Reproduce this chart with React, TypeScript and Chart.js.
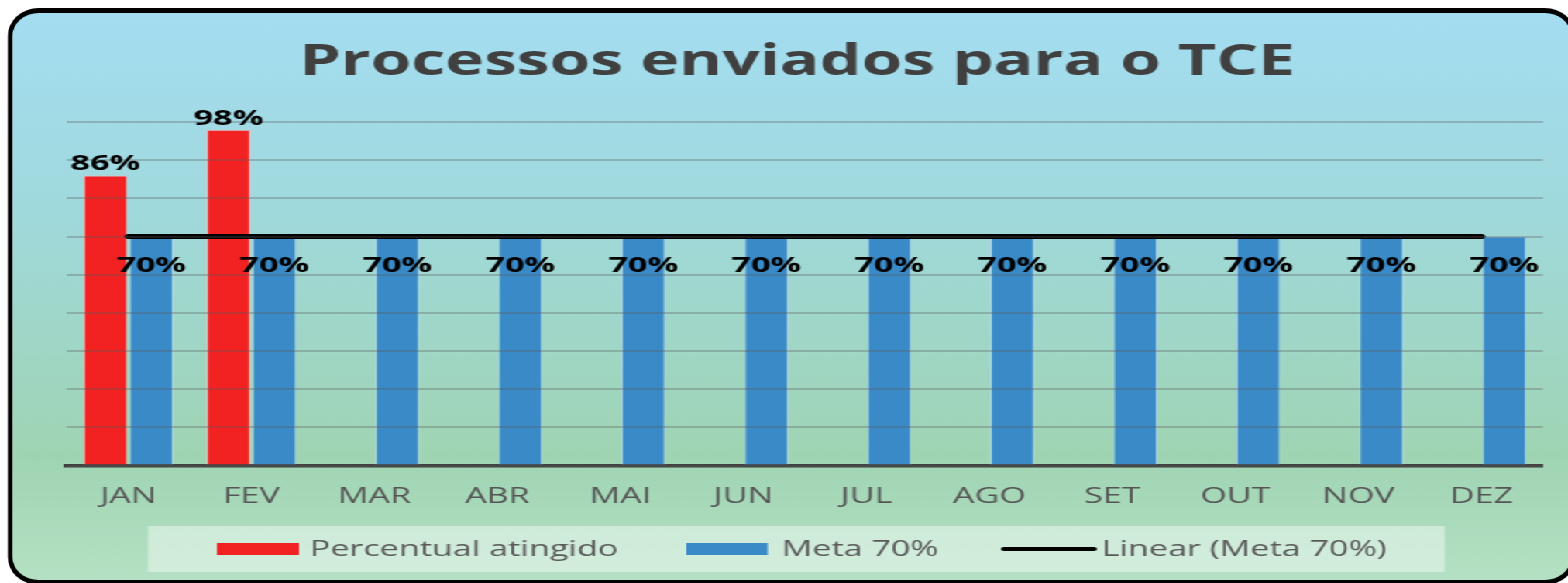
import React, { useEffect, useRef } from 'react';
import { Chart, registerables } from 'chart.js';

Chart.register(...registerables);

const months = ['JAN', 'FEV', 'MAR', 'ABR', 'MAI', 'JUN', 'JUL', 'AGO', 'SET', 'OUT', 'NOV', 'DEZ'];
const percentualAtingido = [86, 98, null, null, null, null, null, null, null, null, null, null];
const meta70 = [70, 70, 70, 70, 70, 70, 70, 70, 70, 70, 70, 70];
const linearMeta70 = [70, 70, 70, 70, 70, 70, 70, 70, 70, 70, 70, 70];
const seriesLabels = ['Percentual atingido', 'Meta 70%', 'Linear (Meta 70%)'];
const titleText = 'Processos enviados para o TCE';
const yMin = 10;
const yMax = 100;
const yStep = 10;

const W = 1012;
const H = 583;
const SX = 1568 / W;

const RED = '#f22222';
const BLUE = '#3a8ac7';

const decorPlugin = {
  id: 'decor',
  afterDraw(chart: any) {
    const ctx = chart.ctx as CanvasRenderingContext2D;
    ctx.save();
    // title
    ctx.font = 'bold 42.5px "Open Sans"';
    ctx.fillStyle = '#404040';
    ctx.textAlign = 'center';
    ctx.textBaseline = 'alphabetic';
    ctx.fillText(titleText, 514.5, 75);

    // data labels
    ctx.font = 'bold 22px "Open Sans"';
    ctx.fillStyle = '#000';
    const m0 = chart.getDatasetMeta(0);
    m0.data.forEach((bar: any, i: number) => {
      const v = chart.data.datasets[0].data[i];
      if (v == null) return;
      ctx.fillText(v + '%', bar.x, bar.y - 5);
    });
    const m1 = chart.getDatasetMeta(1);
    m1.data.forEach((bar: any, i: number) => {
      const v = chart.data.datasets[1].data[i];
      if (v == null) return;
      ctx.fillText(v + '%', bar.x, bar.y + 35);
    });

    // legend
    ctx.fillStyle = 'rgba(255,255,255,0.42)';
    ctx.fillRect(95.5, 526, 837, 46);
    ctx.textAlign = 'left';
    ctx.font = '22px "Open Sans"';
    ctx.fillStyle = RED;
    ctx.fillRect(140, 543, 53, 12);
    ctx.fillStyle = BLUE;
    ctx.fillRect(443, 543, 52.5, 12);
    ctx.strokeStyle = '#000';
    ctx.lineWidth = 4;
    ctx.lineCap = 'round';
    ctx.beginPath();
    ctx.moveTo(648, 549);
    ctx.lineTo(706, 549);
    ctx.stroke();
    ctx.fillStyle = '#595959';
    ctx.fillText(chart.data.datasets[0].label, 200, 556);
    ctx.fillText(chart.data.datasets[1].label, 504.5, 556);
    ctx.fillText(chart.data.datasets[2].label, 711, 556);
    ctx.restore();
  },
};

export default function App() {
  const ref = useRef<HTMLCanvasElement | null>(null);
  useEffect(() => {
    if (!ref.current) return;
    const chart = new Chart(ref.current, {
      type: 'bar',
      data: {
        labels: months,
        datasets: [
          {
            type: 'bar',
            label: seriesLabels[0],
            data: percentualAtingido,
            backgroundColor: RED,
            borderColor: 'rgba(255,190,190,0.8)',
            borderWidth: 1,
            base: yMin,
            order: 2,
            categoryPercentage: 0.745,
            barPercentage: 0.965,
          } as any,
          {
            type: 'bar',
            label: seriesLabels[1],
            data: meta70,
            backgroundColor: BLUE,
            borderColor: 'rgba(180,215,240,0.8)',
            borderWidth: 1,
            base: yMin,
            order: 2,
            categoryPercentage: 0.745,
            barPercentage: 0.965,
          } as any,
          {
            type: 'line',
            label: seriesLabels[2],
            data: linearMeta70,
            borderColor: '#000',
            borderWidth: 5,
            borderCapStyle: 'round',
            pointRadius: 0,
            fill: false,
            order: 0,
          } as any,
        ],
      },
      options: {
        responsive: false,
        animation: false,
        devicePixelRatio: 1,
        layout: { padding: { left: 43.2, right: 16.2, top: 122, bottom: 55 } },
        plugins: {
          legend: { display: false },
          title: { display: false },
          tooltip: { enabled: false },
        },
        scales: {
          x: {
            grid: { display: false, drawTicks: false },
            border: { display: true, color: '#404040', width: 3.5 },
            ticks: {
              color: '#555555',
              font: { family: '"Open Sans"', size: 22 },
              padding: 18,
            },
          },
          y: {
            min: yMin,
            max: yMax,
            ticks: { display: false, stepSize: yStep },
            grid: { color: 'rgba(90,90,90,0.32)', lineWidth: 2, drawTicks: false, z: 1 },
            border: { display: false },
          },
        },
      },
      plugins: [decorPlugin],
    } as any);
    return () => chart.destroy();
  }, []);

  return (
    <div style={{ position: 'absolute', left: 0, top: 0, width: 1568, height: 583, overflow: 'hidden' }}>
      <div
        style={{
          position: 'absolute',
          left: 0,
          top: 0,
          width: W,
          height: H,
          transform: `scaleX(${SX})`,
          transformOrigin: '0 0',
        }}
      >
        <div
          style={{
            position: 'absolute',
            left: 4.5,
            top: 8,
            width: 1012,
            height: 577,
            boxSizing: 'border-box',
            borderStyle: 'solid',
            borderColor: '#000',
            borderWidth: '5px 3.5px',
            borderRadius: '20px / 28px',
            background: 'linear-gradient(180deg, #a4ddf1 0%, #a0d9dc 35%, #9fd4b3 78%, #b4e1c3 100%)',
          }}
        />
        <canvas ref={ref} width={W} height={H} style={{ position: 'absolute', left: 0, top: 0, width: W, height: H }} />
      </div>
    </div>
  );
}
